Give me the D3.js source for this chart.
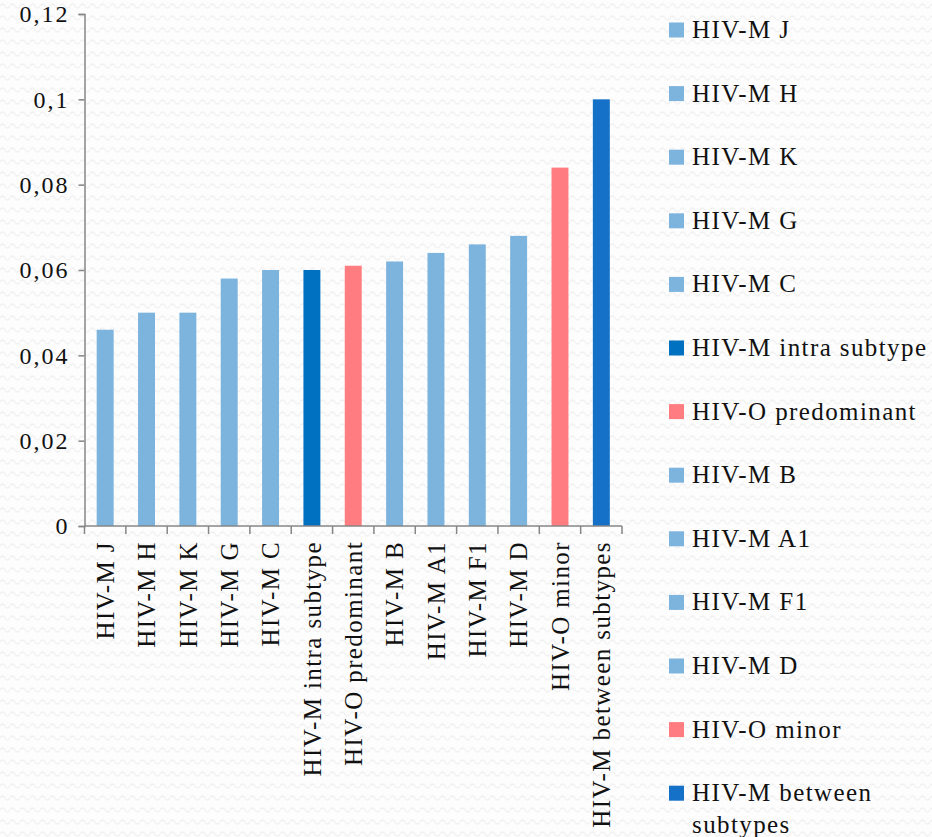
<!DOCTYPE html>
<html>
<head>
<meta charset="utf-8">
<script src="https://cdn.jsdelivr.net/npm/d3@7"></script>
<style>
  body { margin: 0; background: #fff; }
  text { font-family: "Liberation Serif", serif; fill: #111; }
</style>
</head>
<body>
<div id="container"></div>
<script>
// data
let categories = ["HIV-M J", "HIV-M H", "HIV-M K", "HIV-M G", "HIV-M C", "HIV-M intra subtype",
    "HIV-O predominant", "HIV-M B", "HIV-M A1", "HIV-M F1", "HIV-M D", "HIV-O minor", "HIV-M between subtypes"];
let values = [0.046, 0.05, 0.05, 0.058, 0.06, 0.06, 0.061, 0.062, 0.064, 0.066, 0.068, 0.084, 0.1];
let groups = ["M", "M", "M", "M", "M", "intra", "O", "M", "M", "M", "M", "O", "between"];
let yTicks = [0, 0.02, 0.04, 0.06, 0.08, 0.1, 0.12];

let w = 932, h = 837;
let margin = {left: 84.5, right: 310, top: 14, bottom: 311};

let svg = d3.select("div#container").append("svg")
    .attr("width", w).attr("height", h);

// faint wavy paper texture behind the chart
let defs = svg.append("defs");
let pat = defs.append("pattern").attr("id", "waves")
    .attr("width", 10).attr("height", 12).attr("patternUnits", "userSpaceOnUse");
pat.append("path").attr("d", "M0,6 Q2.5,2 5,6 T10,6")
    .attr("fill", "none").attr("stroke", "#f1f1f1").attr("stroke-width", 1.4);
svg.append("rect").attr("width", w).attr("height", h).attr("fill", "#fdfdfd");
svg.append("rect").attr("width", w).attr("height", h).attr("fill", "url(#waves)");

let color = d3.scaleOrdinal()
    .domain(["M", "intra", "O", "between"])
    .range(["#7db4de", "#0070c0", "#ff7c80", "#1570c8"]);

let x = d3.scaleBand().domain(categories)
    .range([margin.left, w - margin.right])
    .paddingInner(0.59).paddingOuter(0.295);
let y = d3.scaleLinear().domain([0, 0.12]).range([h - margin.bottom, margin.top]);

let fmt = d => String(d).replace(".", ",");

// bars
svg.selectAll("rect.bar")
    .data(categories)
    .enter().append("rect")
    .attr("class", "bar")
    .attr("x", d => x(d))
    .attr("width", x.bandwidth())
    .attr("y", (d, i) => y(values[i]))
    .attr("height", (d, i) => y(0) - y(values[i]))
    .attr("fill", (d, i) => color(groups[i]));

// y axis
let yAxis = svg.append("g")
    .attr("transform", "translate(" + margin.left + ",0)")
    .call(d3.axisLeft(y).tickValues(yTicks).tickFormat(fmt).tickSize(6).tickPadding(9));
yAxis.select(".domain").attr("stroke", "#868686").attr("stroke-width", 1.5);
yAxis.selectAll(".tick line").attr("stroke", "#868686").attr("stroke-width", 1.5);
yAxis.selectAll(".tick text")
    .style("font-family", "Liberation Serif, serif")
    .style("font-size", "24px").style("letter-spacing", "2px")
    .attr("fill", "#111");

// x axis: line plus ticks at band edges
let x0 = margin.left, x1 = w - margin.right, yb = y(0);
let xg = svg.append("g");
xg.append("line").attr("x1", x0).attr("x2", x1).attr("y1", yb).attr("y2", yb)
    .attr("stroke", "#868686").attr("stroke-width", 1.5);
xg.selectAll("line.tk")
    .data(d3.range(categories.length + 1))
    .enter().append("line").attr("class", "tk")
    .attr("x1", i => x0 + i * (x1 - x0) / categories.length)
    .attr("x2", i => x0 + i * (x1 - x0) / categories.length)
    .attr("y1", yb).attr("y2", yb + 8)
    .attr("stroke", "#868686").attr("stroke-width", 1.5);
xg.selectAll("text.lab")
    .data(categories)
    .enter().append("text").attr("class", "lab")
    .attr("transform", d => "translate(" + (x(d) + x.bandwidth() / 2) + "," + (yb + 15) + ") rotate(-90)")
    .attr("text-anchor", "end")
    .attr("dy", "0.35em")
    .style("font-size", "25px").style("letter-spacing", "1.4px")
    .text(d => d);

// legend
let legend = svg.append("g").attr("transform", "translate(669,0)");
let legendStep = 63.6;
let item = legend.selectAll("g.item")
    .data(categories)
    .enter().append("g").attr("class", "item")
    .attr("transform", (d, i) => "translate(0," + (30 + i * legendStep) + ")");
item.append("rect")
    .attr("x", 0).attr("y", -7.5).attr("width", 15).attr("height", 15)
    .attr("fill", (d, i) => color(groups[i]));
item.append("text")
    .attr("x", 23).attr("y", 8)
    .style("font-size", "25px").style("letter-spacing", "1.4px")
    .each(function(d) {
        let t = d3.select(this);
        if (d === "HIV-M between subtypes") {
            t.append("tspan").attr("x", 23).text("HIV-M between");
            t.append("tspan").attr("x", 23).attr("dy", 32).text("subtypes");
        } else {
            t.text(d);
        }
    });
</script>
</body>
</html>
